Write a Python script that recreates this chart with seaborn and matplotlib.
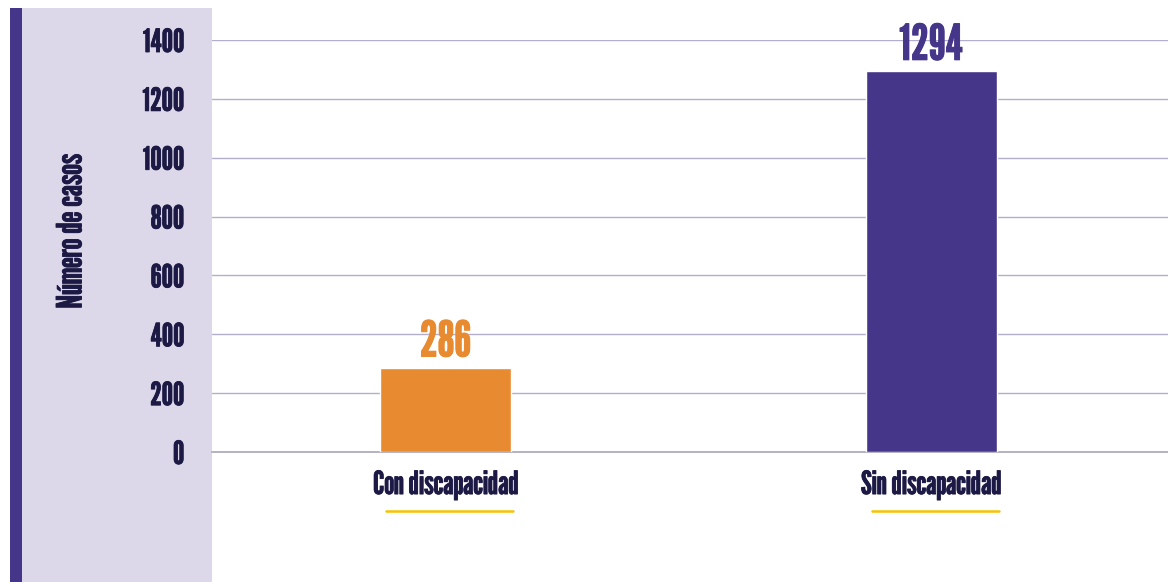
import matplotlib
matplotlib.use("Agg")
import matplotlib.pyplot as plt
import seaborn as sns
import pandas as pd
from matplotlib.patches import Rectangle
from matplotlib.lines import Line2D
import matplotlib.transforms as mtransforms
import matplotlib.patheffects as pe

categories = ["Con discapacidad", "Sin discapacidad"]
values = [286, 1294]
bar_colors = ["#e88a30", "#46368a"]
yticks = [0, 200, 400, 600, 800, 1000, 1200, 1400]

sns.set_theme(style="white")
FONT = ["League Gothic", "DejaVu Sans"]
plt.rcParams["font.family"] = FONT

W, H = 1168, 582
fig = plt.figure(figsize=(W / 100, H / 100), dpi=100)

# left panel
fig.patches.append(Rectangle((22 / W, 0), (212 - 22) / W, 1 - 8 / H, transform=fig.transFigure,
                             facecolor="#dcd8ea", edgecolor="none", zorder=-2))
fig.patches.append(Rectangle((10 / W, 0), 12 / W, 1 - 8 / H, transform=fig.transFigure,
                             facecolor="#46368a", edgecolor="none", zorder=-2))

ax = fig.add_axes([212 / W, (H - 452) / H, (W - 212) / W, (452 - 40) / H])
ax.patch.set_alpha(0)

df = pd.DataFrame({"cat": categories, "val": values})
sns.barplot(data=df, x="cat", y="val", hue="cat", palette=bar_colors, width=0.27,
            legend=False, ax=ax, saturation=1, zorder=3)

ax.set_xlim(-0.481, 1.488)
ax.set_ylim(0, 1400)
ax.set_yticks(yticks)
ax.set_yticklabels([str(t) for t in yticks])
ax.yaxis.grid(True, color="#b3aecd", linewidth=1.0, zorder=0)
ax.set_axisbelow(True)
for s in ["top", "right", "left"]:
    ax.spines[s].set_visible(False)
ax.spines["bottom"].set_color("#aaa6bd")
ax.spines["bottom"].set_linewidth(1.2)
ax.tick_params(axis="both", length=0)
ax.tick_params(axis="y", pad=20, labelsize=23, labelcolor="#1c1a45")
ax.tick_params(axis="x", pad=13, labelsize=23, labelcolor="#1c1a45")
ax.set_xlabel("")
ax.set_ylabel("")

thick = [pe.withStroke(linewidth=0.6, foreground="#1c1a45")]
for lab in ax.get_yticklabels() + ax.get_xticklabels():
    lab.set_path_effects(thick)

for i, (v, c) in enumerate(zip(values, bar_colors)):
    ax.text(i, v + 8, str(v), ha="center", va="bottom", fontsize=35.5,
            color=c, zorder=5, path_effects=[pe.withStroke(linewidth=0.7, foreground=c)])

# yellow underlines under category labels
trans = mtransforms.blended_transform_factory(ax.transData, fig.transFigure)
for i in range(len(categories)):
    fig.lines.append(Line2D([i - 0.122, i + 0.139], [1 - 511 / H] * 2, transform=trans,
                            color="#f5c400", linewidth=1.8))

fig.text(72 / W, 1 - 231 / H, "Número de casos", rotation=90, ha="center", va="center",
         fontsize=25, color="#1c1a45", path_effects=thick)

fig.savefig("out.png", dpi=100)
